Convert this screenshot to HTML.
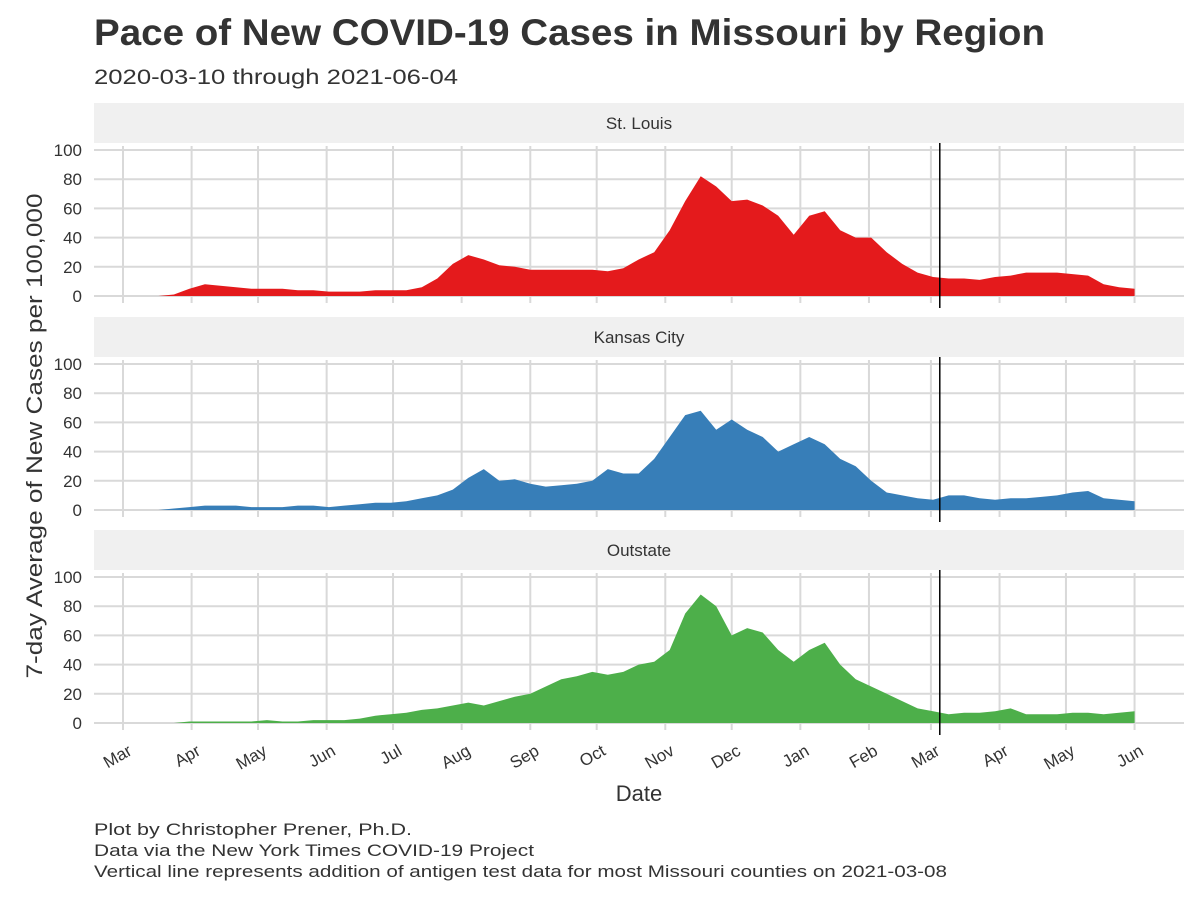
<!DOCTYPE html>
<html><head><meta charset="utf-8"><style>
body{margin:0;background:#fff;}
svg text{font-family:"Liberation Sans",Arial,sans-serif;}
</style></head><body>
<svg id="chart" width="1200" height="900" viewBox="0 0 1200 900" xmlns="http://www.w3.org/2000/svg">
<text x="94" y="45" font-size="37" font-weight="bold" fill="#333" textLength="951" lengthAdjust="spacingAndGlyphs">Pace of New COVID-19 Cases in Missouri by Region</text>
<text x="94" y="84" font-size="21" fill="#333" textLength="364" lengthAdjust="spacingAndGlyphs">2020-03-10 through 2021-06-04</text>
<text transform="translate(42,436) rotate(-90)" text-anchor="middle" font-size="22" fill="#333" textLength="485" lengthAdjust="spacingAndGlyphs">7-day Average of New Cases per 100,000</text>
<text x="639" y="801" text-anchor="middle" font-size="22" fill="#333">Date</text>
<text x="94" y="835" font-size="17" fill="#333" textLength="318" lengthAdjust="spacingAndGlyphs">Plot by Christopher Prener, Ph.D.</text>
<text x="94" y="856" font-size="17" fill="#333" textLength="440" lengthAdjust="spacingAndGlyphs">Data via the New York Times COVID-19 Project</text>
<text x="94" y="877" font-size="17" fill="#333" textLength="853" lengthAdjust="spacingAndGlyphs">Vertical line represents addition of antigen test data for most Missouri counties on 2021-03-08</text>
<g id="panels"></g>
</svg>
<script>
const regions = ["St. Louis","Kansas City","Outstate"];
const colors = ["#e41a1c","#377eb8","#4daf4a"];
const monthLabels = ["Mar","Apr","May","Jun","Jul","Aug","Sep","Oct","Nov","Dec","Jan","Feb","Mar","Apr","May","Jun"];
const yTicks = [0,20,40,60,80,100];
const stlValues = [0,0,1,5,8,7,6,5,5,5, 4,4,3,3,3,4,4,4,6,12, 22,28,25,21,20,18,18,18,18,18, 17,19,25,30,45,65,82,75,65,66, 62,55,42,55,58,45,40,40,30,22, 16,13,12,12,11,13,14,16,16,16, 15,14,8,6,5];
const kcValues = [0,0,1,2,3,3,3,2,2,2, 3,3,2,3,4,5,5,6,8,10, 14,22,28,20,21,18,16,17,18,20, 28,25,25,35,50,65,68,55,62,55, 50,40,45,50,45,35,30,20,12,10, 8,7,10,10,8,7,8,8,9,10, 12,13,8,7,6];
const outValues = [0,0,0,1,1,1,1,1,2,1, 1,2,2,2,3,5,6,7,9,10, 12,14,12,15,18,20,25,30,32,35, 33,35,40,42,50,75,88,80,60,65, 62,50,42,50,55,40,30,25,20,15, 10,8,6,7,7,8,10,6,6,6, 7,7,6,7,8];
const series = [stlValues,kcValues,outValues];
const startDay = 9;
const antigenDay = 369;
const monthDays = [0,31,61,92,122,153,184,214,245,275,306,337,365,396,426,457];
const ns="http://www.w3.org/2000/svg";
const px = d => 123 + d*2.2135;
const panelTops = [103,317,530];
const g = document.getElementById('panels');
function mk(tag, attrs){const e=document.createElementNS(ns,tag);for(const k in attrs)e.setAttribute(k,attrs[k]);return e;}
regions.forEach((r,i)=>{
  const top=panelTops[i], y0=top+193, y100=top+47;
  const py = v => y0 - v*(y0-y100)/100;
  const pg = mk('g',{});
  
  
  g.appendChild(pg);
  const strip = mk('rect',{x:94,y:top,width:1090,height:40,fill:'#f0f0f0'});
  
  
  pg.appendChild(strip);
  const st = mk('text',{x:639,y:top+26,'text-anchor':'middle','font-size':17,fill:'#333'});
  st.textContent=r;
  
  
  pg.appendChild(st);
  yTicks.forEach(t=>{
    const l=mk('line',{x1:94,x2:1184,y1:py(t),y2:py(t),stroke:'#d9d9d9','stroke-width':2});
    
    
    pg.appendChild(l);
    const tx=mk('text',{x:82,y:py(t)+6,'text-anchor':'end','font-size':17,fill:'#333'});
    tx.textContent=t;
    
    
    pg.appendChild(tx);
  });
  monthDays.forEach(d=>{
    const l=mk('line',{x1:px(d),x2:px(d),y1:y100-4,y2:y0+7,stroke:'#d9d9d9','stroke-width':2});
    
    
    pg.appendChild(l);
  });
  const vals=series[i];
  let d='M'+px(startDay)+','+y0;
  vals.forEach((v,k)=>{d+=' L'+px(startDay+k*7).toFixed(1)+','+py(v).toFixed(1);});
  d+=' L'+px(startDay+(vals.length-1)*7).toFixed(1)+','+y0+' Z';
  const area=mk('path',{d:d,fill:colors[i]});
  
  
  pg.appendChild(area);
  const vl=mk('line',{x1:px(antigenDay),x2:px(antigenDay),y1:top+40,y2:y0+12,stroke:'#000','stroke-width':1.5});
  
  
  pg.appendChild(vl);
});
monthDays.forEach((d,k)=>{
  const x=px(d);
  const t=mk('text',{transform:`translate(${x+10},${754}) rotate(-30)`,'text-anchor':'end','font-size':17,fill:'#333'});
  t.textContent=monthLabels[k];
  
  
  g.appendChild(t);
});
</script>
</body></html>
